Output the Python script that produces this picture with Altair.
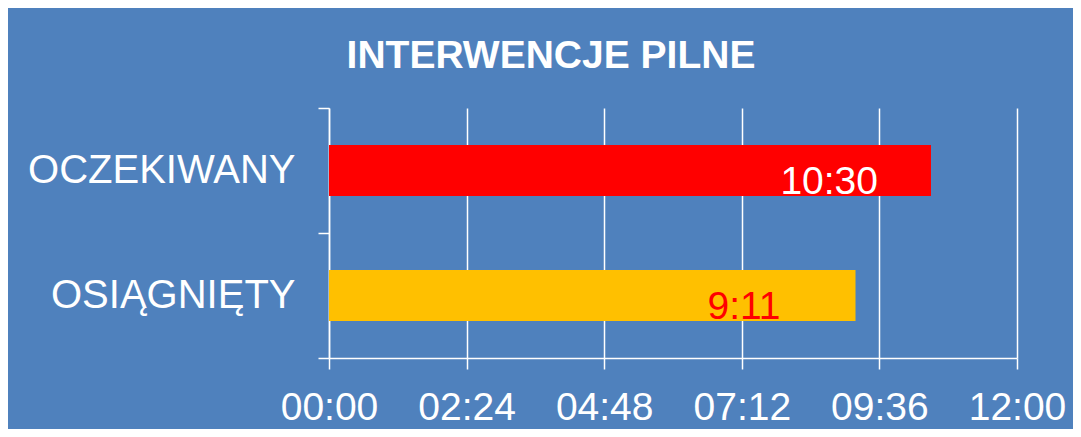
import altair as alt
import pandas as pd

categories = ["OCZEKIWANY", "OSIĄGNIĘTY"]
minutes = [630, 551]
value_labels = ["10:30", "9:11"]
bar_colors = ["#FF0000", "#FFC000"]
label_colors = ["#FFFFFF", "#FF0000"]
tick_values = [0, 144, 288, 432, 576, 720]

df = pd.DataFrame({
    "cat": categories,
    "min": minutes,
    "lab": value_labels,
    "bcol": bar_colors,
    "lcol": label_colors,
})

FONT = "Liberation Sans"
BG = "#4F81BD"

label_expr = ("(floor(datum.value/60) < 10 ? '0' : '') + floor(datum.value/60) + ':' + "
              "(datum.value % 60 < 10 ? '0' : '') + (datum.value % 60)")

x_enc = alt.X(
    "min:Q",
    scale=alt.Scale(domain=[0, 720], nice=False, zero=True),
    axis=alt.Axis(
        values=tick_values, labelExpr=label_expr, title=None,
        grid=True, gridColor="white", gridWidth=1.5, gridOpacity=1,
        domainColor="white", domainWidth=1.5,
        tickColor="white", tickSize=11, tickWidth=1.5,
        labelColor="white", labelFont=FONT, labelFontSize=39,
        labelPadding=19, labelFlush=False,
    ),
)
y_enc = alt.Y(
    "cat:N", sort=categories,
    scale=alt.Scale(paddingInner=0, paddingOuter=0),
    axis=alt.Axis(
        title=None, grid=False, tickBand="extent",
        domainColor="white", domainWidth=1.5,
        tickColor="white", tickSize=11, tickWidth=1.5,
        labelColor="white", labelFont=FONT, labelFontSize=40,
        labelPadding=23, labelLimit=0,
    ),
)

bars = alt.Chart(df).mark_bar(size=51).encode(
    x=x_enc, y=y_enc,
    color=alt.Color("bcol:N", scale=None, legend=None),
)

t1 = alt.Chart(df).transform_filter(alt.datum.cat == categories[0]).mark_text(
    align="right", baseline="alphabetic", dx=-53, dy=23, font=FONT, fontSize=39
).encode(
    x="min:Q", y=alt.Y("cat:N", sort=categories),
    text="lab:N", color=alt.Color("lcol:N", scale=None, legend=None),
)
t2 = alt.Chart(df).transform_filter(alt.datum.cat == categories[1]).mark_text(
    align="right", baseline="alphabetic", dx=-75, dy=23, font=FONT, fontSize=39
).encode(
    x="min:Q", y=alt.Y("cat:N", sort=categories),
    text="lab:N", color=alt.Color("lcol:N", scale=None, legend=None),
)

chart = alt.layer(bars, t1, t2).properties(
    width=688, height=250,
    title=alt.TitleParams(
        "INTERWENCJE PILNE", font=FONT, fontSize=39, fontWeight="bold",
        color="white", anchor="middle", dx=-122, offset=-19,
        baseline="alphabetic",
    ),
    autosize=alt.AutoSizeParams(type="none"),
    padding={"left": 321, "top": 100, "right": 56, "bottom": 71},
).configure(background=BG).configure_view(stroke=None)

chart.save("out.html", embed_options={"renderer": "svg", "actions": False})
